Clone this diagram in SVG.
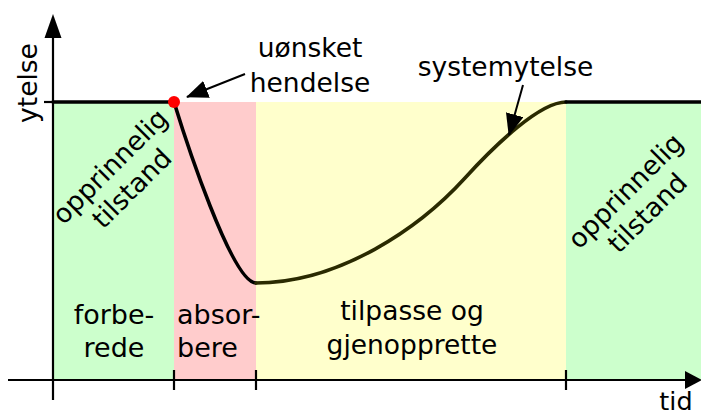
<svg xmlns="http://www.w3.org/2000/svg" width="701" height="415" viewBox="0 0 701 415">
  <defs>
    <style>
      .t { font-family: "DejaVu Sans", Verdana, sans-serif; font-size: 26.5px; fill: #000; }
      .b { font-size: 27px; }
      .mid { text-anchor: middle; }
      .ax { stroke: #000; stroke-width: 2.2; fill: none; }
      .perf { stroke: #000; stroke-width: 3.6; fill: none; stroke-linecap: round; }
      .ann { stroke: #000; stroke-width: 2; fill: none; }
    </style>
    <marker id="ah" viewBox="0 0 22 18" refX="21" refY="9" markerWidth="22" markerHeight="18" markerUnits="userSpaceOnUse" orient="auto">
      <path d="M0,0 L22,9 L0,18 z" fill="#000"/>
    </marker>
  </defs>

  <rect width="701" height="415" fill="#fff"/>

  <g id="regions">
    <rect id="forberede" x="53" y="102" width="121" height="278" fill="#ccffcc"/>
    <rect id="absorbere" x="174" y="102" width="82" height="278" fill="#ffcccc"/>
    <rect id="tilpasse" x="256" y="102" width="310" height="278" fill="#ffffcc"/>
    <rect id="opprinnelig2" x="566" y="102" width="135" height="278" fill="#ccffcc"/>
  </g>

  <g id="axes">
    <line class="ax" x1="53" y1="400" x2="53" y2="36"/>
    <polygon points="53,14 44.5,38 61.5,38" fill="#000"/>
    <line class="ax" x1="8" y1="380" x2="688" y2="380"/>
    <polygon points="702,380 685,371 685,389" fill="#000"/>
    <line class="ax" x1="44" y1="102" x2="53" y2="102"/>
    <line class="ax" x1="174" y1="370" x2="174" y2="390"/>
    <line class="ax" x1="256" y1="370" x2="256" y2="390"/>
    <line class="ax" x1="566" y1="370" x2="566" y2="390"/>
    <text class="t mid" transform="translate(37,83) rotate(-90)">ytelse</text>
    <text class="t mid" x="676" y="410" style="font-size:25.5px">tid</text>
  </g>

  <g id="curve">
    <path class="perf" d="M53,102 L174,102 C185,138 232,283 256,283"/>
    <path class="perf" style="stroke:#2a2a00" d="M256,283 C340,283 420,227.5 465,178 C495,145 540,102 566,102"/>
    <path class="perf" d="M566,102 L703,102"/>
  </g>

  <g id="event">
    <circle cx="174" cy="102" r="6" fill="#ff0000"/>
  </g>

  <g id="connectors">
    <line class="ann" x1="245" y1="74" x2="187" y2="97" marker-end="url(#ah)"/>
    <line class="ann" x1="523" y1="85" x2="509" y2="135" marker-end="url(#ah)"/>
  </g>

  <g id="label-uonsket">
    <text class="t mid" x="310" y="57">uønsket</text>
    <text class="t mid" x="310" y="92">hendelse</text>
  </g>
  <g id="label-systemytelse">
    <text class="t mid" x="505.5" y="76">systemytelse</text>
  </g>
  <g id="label-opprinnelig1" transform="translate(121,177.5) rotate(-45)">
    <text class="t mid" x="0" y="-6.5">opprinnelig</text>
    <text class="t mid" x="0" y="24.5">tilstand</text>
  </g>
  <g id="label-opprinnelig2" transform="translate(636.5,202) rotate(-45)">
    <text class="t mid" x="0" y="-6.5">opprinnelig</text>
    <text class="t mid" x="0" y="24.5">tilstand</text>
  </g>
  <g id="label-forberede">
    <text class="t b mid" x="114" y="324">forbe-</text>
    <text class="t b mid" x="114" y="357">rede</text>
  </g>
  <g id="label-absorbere">
    <text class="t b" x="177" y="324">absor-</text>
    <text class="t b" x="177" y="357">bere</text>
  </g>
  <g id="label-tilpasse">
    <text class="t mid" x="412" y="320">tilpasse og</text>
    <text class="t mid" x="412" y="354">gjenopprette</text>
  </g>
</svg>
